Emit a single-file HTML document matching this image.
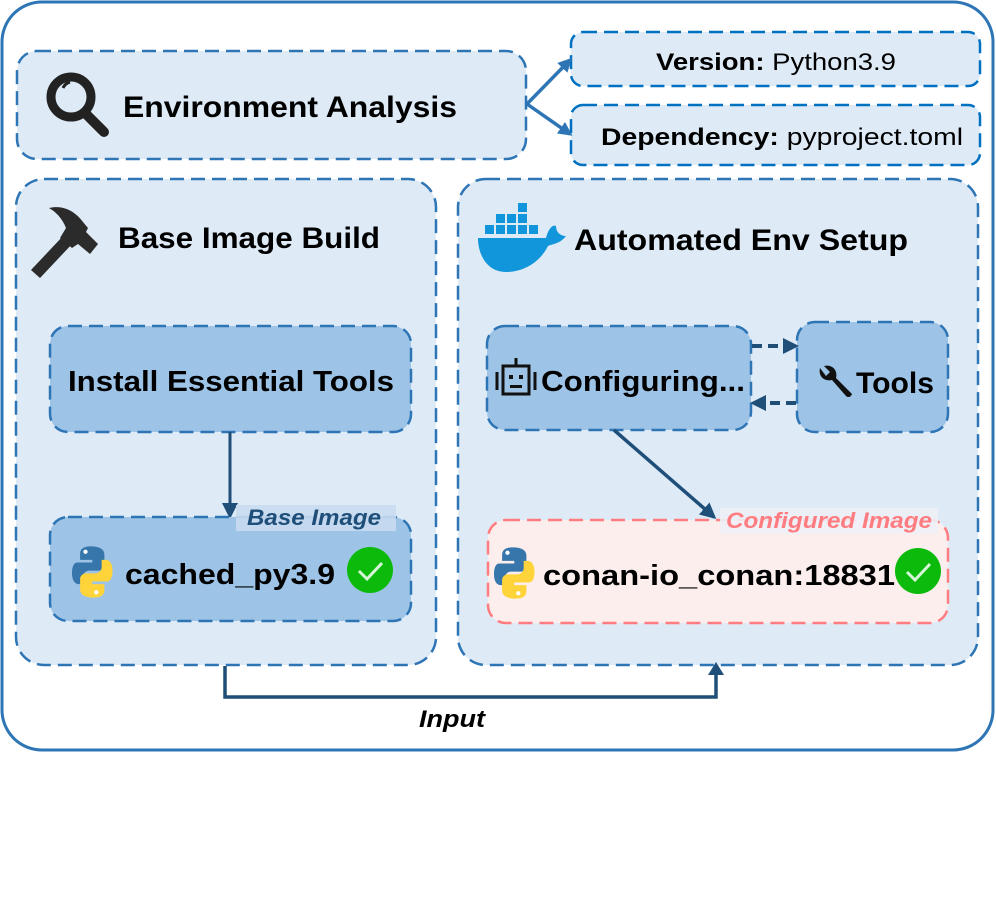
<!DOCTYPE html>
<html><head><meta charset="utf-8">
<style>
html,body{margin:0;padding:0;background:#fff;}
svg{display:block;}
text{font-family:"Liberation Sans",sans-serif;font-weight:bold;fill:#000;}
</style></head><body>
<svg width="996" height="912" viewBox="0 0 996 912" xmlns="http://www.w3.org/2000/svg">
<defs>
<marker id="ab" markerWidth="14" markerHeight="14" refX="11" refY="7" orient="auto" markerUnits="userSpaceOnUse"><path d="M0,0 L14,7 L0,14 z" fill="#2e75b6"/></marker>
<marker id="ad" markerWidth="16" markerHeight="16" refX="13" refY="8" orient="auto" markerUnits="userSpaceOnUse"><path d="M0,0 L16,8 L0,16 z" fill="#1f4e79"/></marker>
<g id="py">
<path d="M12,0 C5,0 4,3 4,6 L4,10 L13,10 L13,12 L2,12 C-1,12 -2,16 -2,20 C-2,25 0,28 3,28 L6,28 L6,23 C6,20 8,18 11,18 L18,18 C20,18 22,16 22,14 L22,6 C22,2 18,0 12,0 z" fill="#3776ab" transform="translate(2,1)"/>
<path d="M14,38 C21,38 22,35 22,32 L22,28 L13,28 L13,26 L24,26 C27,26 28,22 28,18 C28,13 26,10 23,10 L20,10 L20,15 C20,18 18,20 15,20 L8,20 C6,20 4,22 4,24 L4,32 C4,36 8,38 14,38 z" fill="#ffd43b" transform="translate(2,1)"/>
<circle cx="10" cy="5" r="1.6" fill="#fff"/><circle cx="18" cy="35" r="1.6" fill="#fff"/>
</g>
<g id="ck"><circle cx="0" cy="0" r="23" fill="#0cba0c"/><path d="M-11,1 L-3,9 L12,-7" stroke="#d6f5d6" stroke-width="3" fill="none"/></g>
</defs>

<rect x="2" y="2" width="991" height="748" rx="40" fill="#fff" stroke="#2e75b6" stroke-width="3"/>

<rect x="17" y="51" width="509" height="108" rx="20" fill="#deebf7" stroke="#2e75b6" stroke-width="2.5" stroke-dasharray="14 7"/>
<circle cx="71" cy="97" r="20" fill="none" stroke="#222" stroke-width="9"/>
<path d="M63,88 A11,11 0 0 1 70,82" stroke="#222" stroke-width="3" fill="none"/>
<line x1="86" y1="114" x2="104" y2="132" stroke="#222" stroke-width="10" stroke-linecap="round"/>
<text x="123" y="117" font-size="30" textLength="334" lengthAdjust="spacingAndGlyphs">Environment Analysis</text>

<rect x="571" y="32" width="409" height="54" rx="12" fill="#deebf7" stroke="#0070c0" stroke-width="2.5" stroke-dasharray="14 7"/>
<text x="656" y="70" font-size="24" textLength="240" lengthAdjust="spacingAndGlyphs">Version: <tspan font-weight="normal">Python3.9</tspan></text>
<rect x="571" y="105" width="409" height="60" rx="12" fill="#deebf7" stroke="#0070c0" stroke-width="2.5" stroke-dasharray="14 7"/>
<text x="601" y="145" font-size="24" textLength="362" lengthAdjust="spacingAndGlyphs">Dependency: <tspan font-weight="normal">pyproject.toml</tspan></text>
<line x1="527" y1="104" x2="570" y2="60" stroke="#2e75b6" stroke-width="3.5" marker-end="url(#ab)"/>
<line x1="527" y1="104" x2="570" y2="134" stroke="#2e75b6" stroke-width="3.5" marker-end="url(#ab)"/>

<rect x="16" y="179" width="420" height="486" rx="28" fill="#deebf7" stroke="#2e75b6" stroke-width="2.5" stroke-dasharray="14 7"/>
<path d="M31,270 L64,235 L73,243 L40,278 z" fill="#2b2b2b"/>
<path d="M49,208 C62,205 74,210 83,222 L88,228 L86,232 L98,244 L90,254 L78,244 L72,248 L60,238 L66,228 C62,218 56,212 49,208 z" fill="#2b2b2b"/>
<text x="118" y="248" font-size="30" textLength="262" lengthAdjust="spacingAndGlyphs">Base Image Build</text>

<rect x="50" y="326" width="361" height="106" rx="18" fill="#9dc3e6" stroke="#2e75b6" stroke-width="2.5" stroke-dasharray="14 7"/>
<text x="68" y="391" font-size="29" textLength="326" lengthAdjust="spacingAndGlyphs">Install Essential Tools</text>
<line x1="230" y1="432" x2="230" y2="516" stroke="#1f4e79" stroke-width="3" marker-end="url(#ad)"/>

<rect x="50" y="517" width="361" height="104" rx="18" fill="#9dc3e6" stroke="#2e75b6" stroke-width="2.5" stroke-dasharray="14 7"/>
<rect x="236" y="505" width="160" height="26" fill="#c9dcef" opacity="0.9"/>
<text x="247" y="525" font-size="22" font-style="italic" style="fill:#1f4e79" textLength="134" lengthAdjust="spacingAndGlyphs">Base Image</text>
<use href="#py" transform="translate(72,545) scale(1.35)"/>
<text x="125" y="584" font-size="29" textLength="210" lengthAdjust="spacingAndGlyphs">cached_py3.9</text>
<use href="#ck" x="370" y="570"/>

<rect x="458" y="179" width="520" height="486" rx="28" fill="#deebf7" stroke="#2e75b6" stroke-width="2.5" stroke-dasharray="14 7"/>
<g fill="#1296db">
<rect x="485" y="225" width="9" height="9"/><rect x="496" y="225" width="9" height="9"/><rect x="507" y="225" width="9" height="9"/><rect x="518" y="225" width="9" height="9"/><rect x="529" y="225" width="9" height="9"/>
<rect x="496" y="214" width="9" height="9"/><rect x="507" y="214" width="9" height="9"/><rect x="518" y="214" width="9" height="9"/>
<rect x="518" y="203" width="9" height="9"/>
<path d="M478,238 L546,238 C548,230 552,224 556,226 C556,232 560,236 566,236 C560,244 552,244 548,246 C540,262 524,272 506,272 C488,272 478,256 478,238 z"/>
</g>
<text x="574" y="250" font-size="30" textLength="334" lengthAdjust="spacingAndGlyphs">Automated Env Setup</text>

<rect x="487" y="326" width="264" height="104" rx="18" fill="#9dc3e6" stroke="#2e75b6" stroke-width="2.5" stroke-dasharray="14 7"/>
<g fill="none" stroke="#111" stroke-width="3">
<rect x="503" y="366" width="26" height="28"/>
<line x1="516" y1="358" x2="516" y2="366"/>
<line x1="497" y1="372" x2="497" y2="390"/><line x1="535" y1="372" x2="535" y2="390"/>
</g>
<rect x="509" y="375" width="4" height="4" fill="#111"/><rect x="519" y="375" width="4" height="4" fill="#111"/><rect x="510" y="385" width="12" height="3" fill="#111"/>
<text x="541" y="391" font-size="29" textLength="204" lengthAdjust="spacingAndGlyphs">Configuring...</text>

<rect x="797" y="322" width="151" height="110" rx="18" fill="#9dc3e6" stroke="#2e75b6" stroke-width="2.5" stroke-dasharray="14 7"/>
<path d="M820,368 C818,376 824,382 832,380 L846,396 C848,398 851,397 852,394 L836,378 C838,370 832,364 824,366 L830,372 L826,376 z" fill="#111"/>
<text x="856" y="393" font-size="30" textLength="78" lengthAdjust="spacingAndGlyphs">Tools</text>

<line x1="752" y1="346" x2="796" y2="346" stroke="#1f4e79" stroke-width="4" stroke-dasharray="10 6" marker-end="url(#ad)"/>
<line x1="796" y1="403" x2="753" y2="403" stroke="#1f4e79" stroke-width="4" stroke-dasharray="10 6" marker-end="url(#ad)"/>
<line x1="614" y1="430" x2="714" y2="517" stroke="#1f4e79" stroke-width="3.5" marker-end="url(#ad)"/>

<rect x="488" y="520" width="460" height="103" rx="18" fill="#fdeeee" stroke="#ff7c80" stroke-width="2.5" stroke-dasharray="14 7"/>
<rect x="720" y="508" width="218" height="26" fill="#eef0f6" opacity="0.9"/>
<text x="726" y="528" font-size="22" font-style="italic" style="fill:#ff7c80" textLength="206" lengthAdjust="spacingAndGlyphs">Configured Image</text>
<use href="#py" transform="translate(494,546) scale(1.35)"/>
<text x="543" y="585" font-size="29" textLength="352" lengthAdjust="spacingAndGlyphs">conan-io_conan:18831</text>
<use href="#ck" x="918" y="571"/>

<path d="M225,666 L225,697 L716,697 L716,672" fill="none" stroke="#1f4e79" stroke-width="3.5"/>
<path d="M708,675 L716,662 L724,675 z" fill="#1f4e79"/>
<text x="419" y="727" font-size="24" font-style="italic" textLength="66" lengthAdjust="spacingAndGlyphs">Input</text>
</svg>
</body></html>
